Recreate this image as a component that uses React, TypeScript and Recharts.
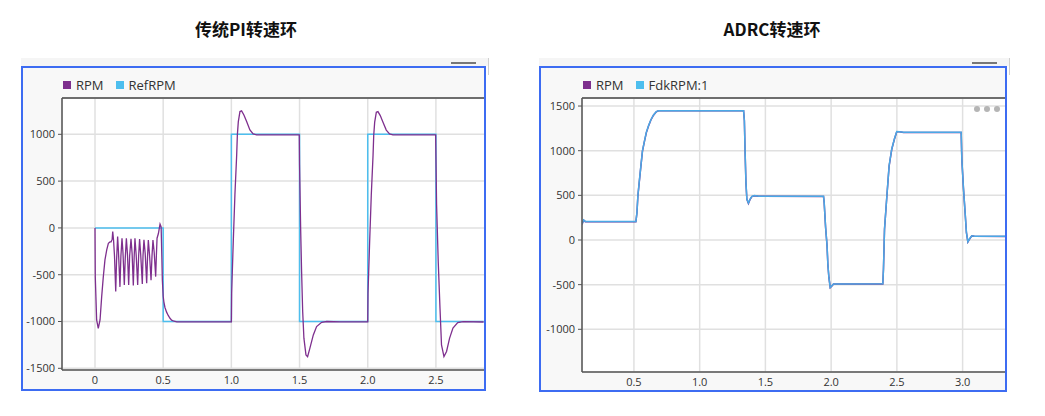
import { LineChart, Line, XAxis, YAxis, CartesianGrid, ReferenceLine } from 'recharts';

// 传统PI转速环: [time s, rpm]
const piRef: [number, number][] = [
  [0, 0], [0.5, -1000], [1.0, 1000], [1.5, -1000], [2.0, 1000], [2.5, -1000], [2.85, -1000],
];
const piRpm: [number, number][] = [
  [0, 0], [0.002, -520], [0.012, -983], [0.024, -1072], [0.037, -983], [0.049, -734], [0.061, -520],
  [0.073, -342], [0.086, -235], [0.098, -164], [0.11, -150], [0.118, -150], [0.126, -120], [0.13, -40],
  [0.136, -130], [0.143, -300], [0.152, -680], [0.158, -350], [0.166, -93], [0.172, -250], [0.183, -630],
  [0.19, -300], [0.198, -110], [0.205, -260], [0.215, -610], [0.222, -320], [0.23, -110], [0.238, -280],
  [0.247, -610], [0.254, -300], [0.264, -115], [0.272, -270], [0.281, -615], [0.287, -320], [0.293, -110],
  [0.302, -290], [0.313, -610], [0.32, -300], [0.327, -120], [0.335, -280], [0.347, -600], [0.352, -300],
  [0.359, -128], [0.368, -270], [0.379, -590], [0.385, -320], [0.391, -130], [0.4, -290], [0.411, -560],
  [0.418, -300], [0.425, -130], [0.434, -260], [0.445, -520], [0.45, -300], [0.455, -110], [0.465, -60],
  [0.472, 0], [0.477, 40], [0.485, 10], [0.49, -300], [0.494, -560], [0.5, -730], [0.505, -790],
  [0.513, -850], [0.525, -900], [0.537, -935], [0.55, -965], [0.562, -985], [0.58, -997], [0.6, -1003],
  [1.0, -1003], [1.002, -698], [1.014, -146], [1.026, 353], [1.039, 780], [1.044, 994], [1.051, 1136],
  [1.063, 1243], [1.075, 1250], [1.092, 1207], [1.112, 1136], [1.136, 1047], [1.16, 1004], [1.185, 995],
  [1.498, 995], [1.5, 673], [1.508, -3], [1.515, -466], [1.523, -894], [1.532, -1178], [1.547, -1357],
  [1.559, -1375], [1.576, -1285], [1.601, -1143], [1.625, -1054], [1.662, -1008], [1.7, -1000],
  [1.8, -1003], [2.0, -1003], [2.002, -700], [2.014, -150], [2.026, 350], [2.039, 775], [2.044, 990],
  [2.051, 1130], [2.063, 1235], [2.075, 1242], [2.092, 1200], [2.112, 1130], [2.136, 1045], [2.16, 1004],
  [2.185, 995], [2.498, 995], [2.505, 246], [2.517, -360], [2.53, -859], [2.541, -1250], [2.559, -1375],
  [2.578, -1320], [2.6, -1180], [2.625, -1070], [2.66, -1012], [2.7, -1002], [2.85, -1005],
];

// ADRC转速环: [time s, rpm]
const adrcRpm: [number, number][] = [
  [0.105, 175], [0.117, 222], [0.125, 214], [0.13, 205], [0.515, 205], [0.523, 305], [0.53, 490],
  [0.54, 640], [0.553, 828], [0.565, 995], [0.578, 1090], [0.594, 1200], [0.611, 1276], [0.629, 1344],
  [0.649, 1398], [0.67, 1435], [0.687, 1446], [1.334, 1446], [1.34, 1340], [1.346, 960], [1.352, 640],
  [1.359, 455], [1.371, 410], [1.384, 456], [1.397, 486], [1.417, 495], [1.45, 490], [1.942, 488],
  [1.947, 418], [1.958, 138], [1.969, -66], [1.975, -272], [1.983, -422], [1.993, -534], [2.006, -515],
  [2.018, -494], [2.393, -492], [2.398, -328], [2.406, 120], [2.424, 492], [2.441, 828], [2.461, 1015],
  [2.481, 1128], [2.499, 1213], [2.52, 1212], [2.55, 1204], [2.989, 1204], [2.994, 904], [3.006, 586],
  [3.019, 305], [3.029, 82], [3.04, -22], [3.052, 9], [3.07, 46], [3.09, 41], [3.33, 40],
];
const adrcFdk: [number, number][] = [
  [0.105, 180], [0.117, 224], [0.125, 215], [0.13, 206], [0.515, 206], [0.523, 310], [0.53, 496],
  [0.54, 645], [0.553, 832], [0.565, 1000], [0.578, 1093], [0.594, 1205], [0.611, 1280], [0.629, 1347],
  [0.649, 1400], [0.67, 1437], [0.687, 1448], [1.334, 1448], [1.34, 1336], [1.346, 963], [1.352, 645],
  [1.359, 459], [1.371, 414], [1.384, 459], [1.397, 488], [1.417, 497], [1.45, 491], [1.942, 489],
  [1.947, 421], [1.958, 141], [1.969, -64], [1.975, -269], [1.983, -419], [1.993, -531], [2.006, -513],
  [2.018, -493], [2.393, -491], [2.398, -325], [2.406, 123], [2.424, 496], [2.441, 832], [2.461, 1019],
  [2.481, 1131], [2.499, 1215], [2.52, 1213], [2.55, 1206], [2.989, 1206], [2.994, 907], [3.006, 589],
  [3.019, 309], [3.029, 85], [3.04, -19], [3.052, 11], [3.07, 48], [3.09, 42], [3.33, 41],
];

const piXTicks = [0, 0.5, 1.0, 1.5, 2.0, 2.5];
const piYTicks = [-1500, -1000, -500, 0, 500, 1000];
const adrcXTicks = [0.5, 1.0, 1.5, 2.0, 2.5, 3.0];
const adrcYTicks = [-1000, -500, 0, 500, 1000, 1500];

const PURPLE = '#7e2f8e';
const LIGHTBLUE = '#4dbeee';
const FDKBLUE = '#4aa9e6';
const FONT = '"Open Sans", "DejaVu Sans", sans-serif';

const toRows = (pts: [number, number][]) => pts.map(([t, v]) => ({ t, v }));
const fmtX = (v: number) => (v === 0 ? '0' : v.toFixed(1));
const tickStyle = { fontSize: 11, fill: '#333', fontFamily: FONT };

function Panel(props: {
  left: number; width: number; height: number; title: string; titleX: number;
  legend: { name: string; color: string }[]; legendX: number; children: React.ReactNode;
}) {
  const { left, width, height, title, titleX, legend, legendX, children } = props;
  return (
    <>
      <div style={{ position: 'absolute', left: titleX - 100, top: 16, width: 200, textAlign: 'center',
        fontFamily: '"Noto Sans CJK SC", sans-serif', fontWeight: 700, fontSize: 17, color: '#111' }}>
        {title}
      </div>
      {/* toolbar strip above the scope */}
      <div style={{ position: 'absolute', left, top: 58, width: width + 3, height: 8, background: '#f5f5f5' }} />
      <div style={{ position: 'absolute', left: left + width + 2, top: 58, width: 1, height: 17, background: '#cfcfcf' }} />
      <div style={{ position: 'absolute', left: left + width - 35, top: 62, width: 25, height: 2, background: '#777' }} />
      <div style={{ position: 'absolute', left, top: 66, width, height, background: '#f8f8f8' }} />
      <div style={{ position: 'absolute', left: legendX, top: 76, display: 'flex', gap: 12,
        fontFamily: FONT, fontSize: 13, color: '#333' }}>
        {legend.map((l) => (
          <span key={l.name} style={{ display: 'flex', alignItems: 'center', gap: 5 }}>
            <span style={{ width: 8, height: 8, background: l.color, display: 'inline-block' }} />
            {l.name}
          </span>
        ))}
      </div>
      <div style={{ position: 'absolute', left, top: 66 }}>{children}</div>
      <div style={{ position: 'absolute', left, top: 66, width: width - 4, height: height - 4,
        border: '2px solid #3d6cf2', pointerEvents: 'none' }} />
    </>
  );
}

export default function App() {
  const piDomainY: [number, number] = [-1518, 1388];
  const adrcDomainY: [number, number] = [-1478, 1590];
  return (
    <div style={{ position: 'absolute', left: 0, top: 0, width: 1045, height: 416, background: '#fff', overflow: 'hidden' }}>
      <Panel left={21} width={465} height={325} title="传统PI转速环" titleX={246}
        legend={[{ name: 'RPM', color: PURPLE }, { name: 'RefRPM', color: LIGHTBLUE }]} legendX={63}>
        <LineChart width={465} height={325} margin={{ top: 32, right: 1, bottom: 3, left: 5 }}>
          <CartesianGrid fill="#fff" stroke="#e0e0e0" strokeWidth={1.5} />
          <XAxis type="number" dataKey="t" domain={[-0.242, 2.86]} ticks={piXTicks} tickFormatter={fmtX}
            allowDataOverflow height={18} tickSize={4} tickMargin={2} tickLine={false}
            axisLine={{ stroke: '#555', strokeWidth: 1.5 }} tick={tickStyle} />
          <YAxis type="number" domain={piDomainY} ticks={piYTicks} allowDataOverflow width={36}
            tickSize={4} tickMargin={3} tickLine={{ stroke: '#555' }}
            axisLine={{ stroke: '#555', strokeWidth: 1.5 }} tick={tickStyle} />
          <ReferenceLine y={piDomainY[1]} stroke="#6e6e6e" strokeWidth={2} />
          <Line data={toRows(piRef)} dataKey="v" type="stepAfter" stroke={LIGHTBLUE} strokeWidth={1.5}
            dot={false} isAnimationActive={false} />
          <Line data={toRows(piRpm)} dataKey="v" type="linear" stroke={PURPLE} strokeWidth={1.3}
            dot={false} isAnimationActive={false} />
        </LineChart>
      </Panel>

      <Panel left={539} width={468} height={326} title="ADRC转速环" titleX={772}
        legend={[{ name: 'RPM', color: PURPLE }, { name: 'FdkRPM:1', color: LIGHTBLUE }]} legendX={583}>
        <LineChart width={468} height={326} margin={{ top: 32, right: 1, bottom: 2, left: 5 }}>
          <CartesianGrid fill="#fff" stroke="#e0e0e0" strokeWidth={1.5} />
          <XAxis type="number" dataKey="t" domain={[0.105, 3.33]} ticks={adrcXTicks} tickFormatter={fmtX}
            allowDataOverflow height={18} tickSize={4} tickMargin={2} tickLine={false}
            axisLine={{ stroke: '#555', strokeWidth: 1.5 }} tick={tickStyle} />
          <YAxis type="number" domain={adrcDomainY} ticks={adrcYTicks} allowDataOverflow width={38}
            tickSize={4} tickMargin={3} tickLine={{ stroke: '#555' }}
            axisLine={{ stroke: '#555', strokeWidth: 1.5 }} tick={tickStyle} />
          <ReferenceLine y={adrcDomainY[1]} stroke="#6e6e6e" strokeWidth={2} />
          <Line data={toRows(adrcRpm)} dataKey="v" type="linear" stroke={PURPLE} strokeWidth={1.5}
            dot={false} isAnimationActive={false} />
          <Line data={toRows(adrcFdk)} dataKey="v" type="linear" stroke={FDKBLUE} strokeWidth={1.5}
            dot={false} isAnimationActive={false} />
        </LineChart>
        <div style={{ position: 'absolute', left: 435, top: 40, display: 'flex', gap: 4 }}>
          {[0, 1, 2].map((i) => (
            <span key={i} style={{ width: 6, height: 6, borderRadius: 3, background: '#b5b5b5', display: 'inline-block' }} />
          ))}
        </div>
      </Panel>
    </div>
  );
}
